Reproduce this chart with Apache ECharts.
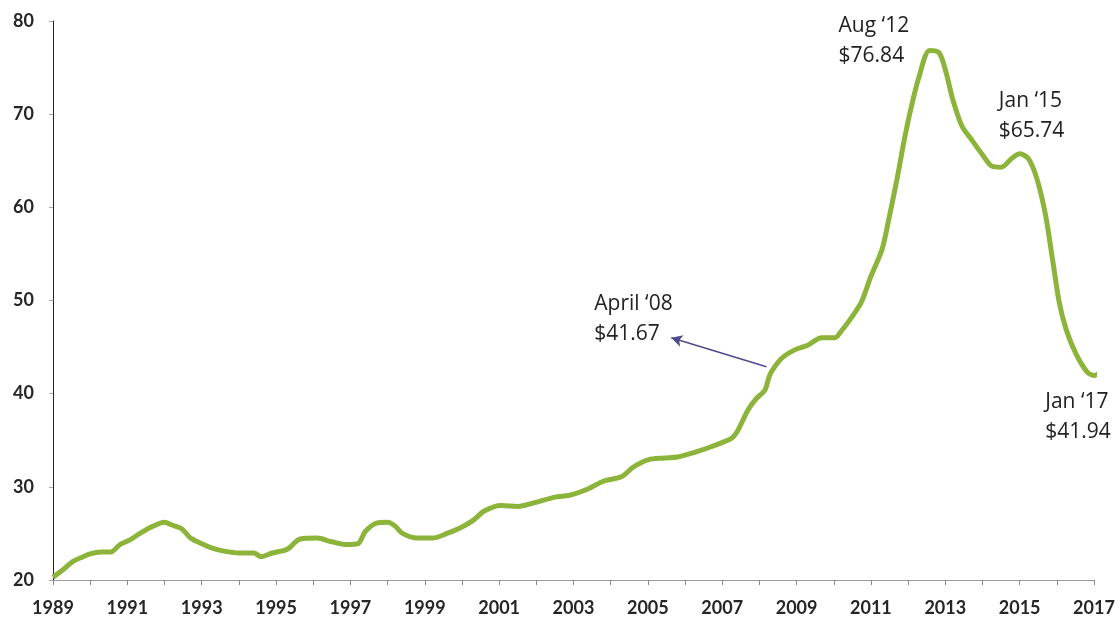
<!DOCTYPE html>
<html>
<head>
<meta charset="utf-8">
<script src="https://cdn.jsdelivr.net/npm/echarts@6/dist/echarts.min.js"></script>
<style>
html,body{margin:0;padding:0;background:#fff;}
#chart{width:1119px;height:617px;}
</style>
</head>
<body>
<div id="chart"></div>
<script>
// Data (year as decimal, price in $)
var years = [1989.00,1989.27,1989.54,1989.81,1990.00,1990.30,1990.55,1990.80,1991.07,1991.34,1991.65,1992.00,1992.20,1992.46,1992.70,1993.00,1993.30,1993.60,1994.00,1994.40,1994.60,1994.90,1995.30,1995.65,1996.10,1996.50,1996.90,1997.20,1997.40,1997.70,1998.00,1998.20,1998.40,1998.80,1999.20,1999.60,2000.00,2000.30,2000.60,2001.05,2001.50,2001.95,2002.50,2002.90,2003.40,2003.80,2004.30,2004.60,2005.00,2005.45,2005.80,2006.26,2006.70,2007.25,2007.40,2007.70,2007.90,2008.15,2008.25,2008.33,2008.60,2008.95,2009.30,2009.67,2010.03,2010.20,2010.50,2010.75,2011.00,2011.30,2011.50,2011.70,2011.90,2012.07,2012.30,2012.58,2012.83,2013.00,2013.20,2013.45,2013.70,2013.99,2014.26,2014.50,2014.80,2015.00,2015.24,2015.47,2015.70,2015.90,2016.07,2016.25,2016.50,2016.80,2017.00,2017.20];
var prices = [20.3,21.1,22.0,22.5,22.8,23.0,23.0,23.8,24.3,25.0,25.7,26.2,25.9,25.5,24.5,23.9,23.4,23.1,22.9,22.9,22.5,22.9,23.3,24.4,24.5,24.1,23.8,23.9,25.2,26.1,26.2,25.8,25.0,24.5,24.5,25.0,25.7,26.4,27.4,28.0,27.9,28.3,28.9,29.1,29.8,30.6,31.1,32.1,32.9,33.1,33.2,33.7,34.3,35.2,35.9,38.3,39.4,40.4,41.67,42.4,43.8,44.7,45.2,46.0,46.0,46.7,48.3,49.9,52.6,55.5,59.1,63.0,67.3,70.5,74.1,76.84,76.6,74.8,71.6,68.7,67.3,65.7,64.4,64.3,65.3,65.74,65.2,63.0,59.1,54.0,49.7,46.9,44.4,42.4,41.94,42.4];
var yTicks = [20,30,40,50,60,70,80];
var annotations = [
  {text:'April \u201808\n$41.67', at:[2003.56, 47.96]},
  {text:'Aug \u201812\n$76.84', at:[2010.13, 77.85]},
  {text:'Jan \u201815\n$65.74', at:[2014.44, 69.8]},
  {text:'Jan \u201817\n$41.94', at:[2015.69, 37.47]}
];
var arrowFrom = [2008.19, 42.9];
var arrowTo = [2005.63, 46.0];

var seriesData = years.map(function(y,i){return [y, prices[i]];});

var chart = echarts.init(document.getElementById('chart'));
chart.setOption({
  animation:false,
  backgroundColor:'#fff',
  grid:{left:53, right:25, top:21, bottom:37},
  xAxis:{
    type:'value', min:1989, max:2017, interval:1,
    axisLine:{show:true, lineStyle:{color:'#999', width:1}},
    axisTick:{show:true, length:5, lineStyle:{color:'#888'}},
    splitLine:{show:false},
    axisLabel:{
      margin:19, color:'#262626', fontSize:18, fontWeight:'bold', fontFamily:'Lato',
      formatter:function(v){ return (Math.round(v)%2===1)? String(Math.round(v)) : ''; }
    }
  },
  yAxis:{
    type:'value', min:yTicks[0], max:yTicks[yTicks.length-1], interval:10,
    axisLine:{show:true, lineStyle:{color:'#222', width:1}},
    axisTick:{show:true, length:4, lineStyle:{color:'#aaa'}},
    splitLine:{show:false},
    axisLabel:{margin:19, color:'#262626', fontSize:18, fontWeight:'bold', fontFamily:'Lato'}
  },
  series:[{
    type:'line',
    data:seriesData,
    showSymbol:false,
    smooth:0.3,
    clip:false,
    lineStyle:{color:'#8db43a', width:5},
    markLine:{
      silent:true,
      symbol:['none','arrow'],
      symbolSize:[9,11],
      label:{show:false},
      lineStyle:{color:'#4d4b8c', width:1.6, type:'solid'},
      data:[[{coord:arrowFrom},{coord:arrowTo}]]
    },
    markPoint:{
      silent:true,
      symbol:'circle',
      symbolSize:0,
      data:annotations.map(function(a){
        return {
          coord:a.at,
          label:{
            show:true, position:[0,0], align:'left', verticalAlign:'middle',
            formatter:a.text, color:'#222', fontSize:21, lineHeight:30,
            fontFamily:'Open Sans'
          }
        };
      })
    }
  }]
});
</script>
</body>
</html>
